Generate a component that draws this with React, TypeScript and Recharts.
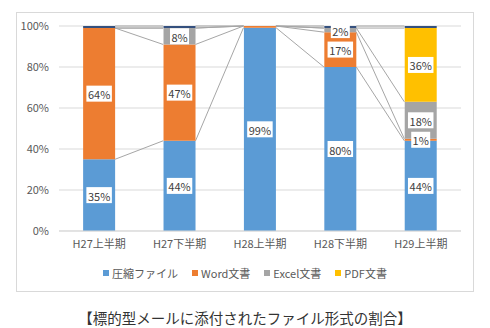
import React from 'react';
import { BarChart, Bar, XAxis, YAxis, CartesianGrid, LabelList, Rectangle } from 'recharts';

const categories = ['H27上半期', 'H27下半期', 'H28上半期', 'H28下半期', 'H29上半期'];
const compressed = [35, 44, 99.2, 80, 44];
const word = [64, 47, 0.8, 17, 1];
const excel = [0, 8, 0, 2, 18];
const pdf = [0, 0, 0, 0, 36];
const other = [1, 1, 0, 1, 1];
const yTicks = [0, 20, 40, 60, 80, 100];

const series = [
  { key: 'compressed', name: '圧縮ファイル', values: compressed, color: '#5b9bd5', legend: true },
  { key: 'word', name: 'Word文書', values: word, color: '#ed7d31', legend: true },
  { key: 'excel', name: 'Excel文書', values: excel, color: '#a5a5a5', legend: true },
  { key: 'pdf', name: 'PDF文書', values: pdf, color: '#ffc000', legend: true },
  { key: 'other', name: 'その他', values: other, color: '#34507e', legend: false },
];

const data = categories.map((c, i) => {
  const row: any = { name: c };
  series.forEach((s) => (row[s.key] = s.values[i]));
  return row;
});

// cumulative stack tops per series, per category
const cumulative = series.map((_, si) =>
  categories.map((_, i) => series.slice(0, si + 1).reduce((a, s) => a + s.values[i], 0))
);

const GAP = 0.3; // barCategoryGap fraction
const FONT = '"Noto Sans CJK JP", "Noto Sans", sans-serif';

// bottom series shape: draws its rect and the Excel-style series lines to the next bar
const BottomShape = (props: any) => {
  const { x, y, width, height, index, value, fill } = props;
  const v = Array.isArray(value) ? value[1] - value[0] : value;
  const bottom = y + height;
  const ppu = height / v;
  const yOf = (t: number) => bottom - t * ppu;
  const band = width / (1 - 2 * GAP);
  const lines: any[] = [];
  if (index < categories.length - 1) {
    cumulative.forEach((cum, si) => {
      lines.push(
        <line
          key={si}
          x1={x + width}
          y1={yOf(cum[index])}
          x2={x + band}
          y2={yOf(cum[index + 1])}
          stroke="#a6a6a6"
          strokeWidth={1}
        />
      );
    });
  }
  return (
    <g>
      <Rectangle x={x} y={y} width={width} height={height} fill={fill} />
      {lines}
    </g>
  );
};

const renderLabel = (props: any) => {
  const { x, y, width, height, value } = props;
  if (value == null || value < 1) return null;
  const txt = `${Math.round(value)}%`;
  const cx = x + width / 2;
  const cy = y + height / 2;
  const w = txt.length * 6.5 + 6;
  return (
    <g>
      <rect x={cx - w / 2} y={cy - 8} width={w} height={16} fill="#ffffff" />
      <text x={cx} y={cy + 0.5} textAnchor="middle" dominantBaseline="central" fontSize={11} fill="#404040" fontFamily={FONT}>
        {txt}
      </text>
    </g>
  );
};

export default function App() {
  return (
    <div style={{ position: 'absolute', left: 0, top: 0, width: 490, height: 328, background: '#fff' }}>
      <div style={{ position: 'absolute', left: 16, top: 12, width: 458, height: 280, border: '1px solid #d9d9d9', boxSizing: 'border-box' }} />
      <div style={{ position: 'absolute', left: 0, top: 0 }}>
        <BarChart width={490} height={300} data={data} margin={{ top: 26, right: 29, bottom: 49, left: 19 }} barCategoryGap={`${GAP * 100}%`}>
          <CartesianGrid vertical={false} stroke="#d9d9d9" />
          <XAxis
            dataKey="name"
            height={20}
            tickSize={0}
            tickMargin={9}
            axisLine={{ stroke: '#d9d9d9' }}
            tickLine={false}
            tick={{ fontSize: 11, fill: '#595959', fontFamily: FONT }}
            interval={0}
          />
          <YAxis
            width={40}
            domain={[0, 100]}
            ticks={yTicks}
            tickFormatter={(v: number) => `${v}%`}
            axisLine={false}
            tickLine={false}
            tickSize={0}
            tickMargin={10}
            tick={{ fontSize: 11, fill: '#595959', fontFamily: FONT }}
          />
          {series.map((s, si) => (
            <Bar
              key={s.key}
              dataKey={s.key}
              name={s.name}
              stackId="a"
              fill={s.color}
              isAnimationActive={false}
              shape={si === 0 ? (p: any) => <BottomShape {...p} /> : undefined}
            >
              {s.legend && <LabelList dataKey={s.key} content={renderLabel} />}
            </Bar>
          ))}
        </BarChart>
      </div>
      <div style={{ position: 'absolute', left: 0, top: 265, width: 490, display: 'flex', justifyContent: 'center', alignItems: 'center', fontFamily: FONT, fontSize: 11, color: '#595959' }}>
        {series.filter((s) => s.legend).map((s) => (
          <div key={s.key} style={{ display: 'flex', alignItems: 'center', margin: '0 7px' }}>
            <span style={{ display: 'inline-block', width: 6, height: 6, background: s.color, marginRight: 3 }} />
            <span>{s.name}</span>
          </div>
        ))}
      </div>
      <div style={{ position: 'absolute', left: 0, top: 307, width: 490, textAlign: 'center', fontFamily: FONT, fontSize: 14.5, color: '#333' }}>
        【標的型メールに添付されたファイル形式の割合】
      </div>
    </div>
  );
}
